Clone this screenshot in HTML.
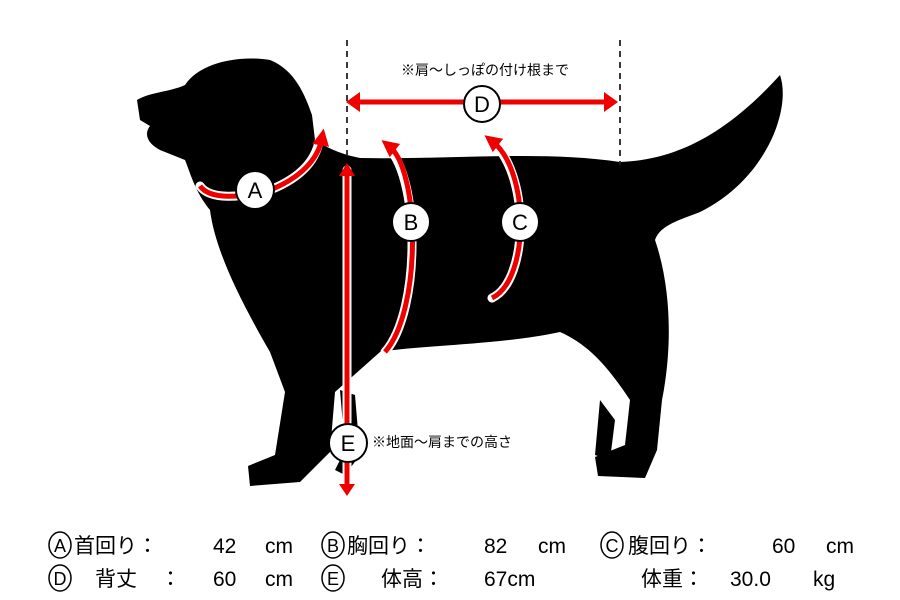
<!DOCTYPE html>
<html><head><meta charset="utf-8"><style>
body{margin:0;width:900px;height:600px;background:#fff;overflow:hidden;font-family:"Liberation Sans","Noto Sans CJK JP",sans-serif}
svg{position:absolute;left:0;top:0}
</style></head><body>
<svg width="900" height="600" viewBox="0 0 900 600">
<defs>
<marker id="ah" markerWidth="3.4" markerHeight="3.4" refX="1.5" refY="1.7" orient="auto" markerUnits="strokeWidth"><path d="M0,0 L3.4,1.7 L0,3.4 Z" fill="#e00"/></marker>
</defs>
<path fill="#000" d="M137,100 C150,92 170,92 185,85 C200,62 240,55 270,60 C295,70 305,95 312,115 L315,140 C330,150 345,155 360,158 C450,160 540,150 620,162 C680,160 730,130 780,75 C792,110 765,180 700,212 C680,220 660,225 655,240 C672,290 672,350 662,400 L657,450 L645,478 L598,476 L595,457 L625,445 L630,400 C610,370 590,345 560,332 C500,345 420,345 380,352 L335,392 L330,452 L300,482 L250,486 L248,466 L275,455 L285,392 L270,352 C240,300 215,250 210,210 C195,192 190,172 185,160 L160,150 C145,142 145,132 150,126 L140,120 Z"/>
<path fill="#000" d="M340,390 L345,450 L335,470 L345,475 L360,455 L355,395 Z"/>
<path fill="#000" d="M600,400 L595,455 L610,460 L615,420 Z"/>
<g stroke="#222" stroke-width="1.8" stroke-dasharray="6,5">
<line x1="347" y1="40" x2="347" y2="158"/><line x1="620" y1="40" x2="620" y2="165"/>
</g>
<g fill="none" stroke="#fff" stroke-width="9" stroke-linecap="round">
<path d="M200,186 C210,200 240,198 270,190 C300,178 318,160 320,135"/>
<path d="M385,145 C420,170 422,310 385,352"/>
<path d="M490,140 C530,170 530,280 492,298"/>
<line x1="347" y1="170" x2="347" y2="492"/>
</g>
<g fill="none" stroke="#e00" stroke-width="5">
<line x1="356" y1="102" x2="608" y2="102"/>
<path d="M200,186 C210,200 240,198 270,190 C300,178 318,160 322,138" marker-end="url(#ah)"/>
<path d="M385,352 C422,310 420,170 389,146" marker-end="url(#ah)"/>
<path d="M492,298 C530,280 530,170 492,141" marker-end="url(#ah)"/>
<line x1="347" y1="172" x2="347" y2="490"/>
</g>
<path fill="#e00" d="M346,102 L360,92 L360,112 Z M618,102 L604,92 L604,112 Z M347,163 L339,176 L355,176 Z M347,496 L339,484 L355,484 Z"/>
<g fill="#fff" stroke="#000" stroke-width="2">
<circle cx="482" cy="104" r="18"/><circle cx="255" cy="190" r="19"/>
<circle cx="411" cy="222" r="19"/><circle cx="520" cy="222" r="19"/>
<circle cx="348" cy="443" r="19"/>
</g>
<g font-size="22" text-anchor="middle" fill="#000">
<text x="482" y="112">D</text><text x="255" y="198">A</text>
<text x="411" y="230">B</text><text x="520" y="230">C</text><text x="348" y="451">E</text>
</g>
<text x="485" y="75" font-size="14" text-anchor="middle">※肩〜しっぽの付け根まで</text>
<text x="372" y="447" font-size="14">※地面〜肩までの高さ</text>
<g fill="none" stroke="#000" stroke-width="1.5">
<ellipse cx="60" cy="545" rx="11" ry="13"/><ellipse cx="333" cy="545" rx="11" ry="13"/><ellipse cx="612" cy="545" rx="11" ry="13"/>
<ellipse cx="60" cy="578" rx="11" ry="13"/><ellipse cx="333" cy="578" rx="11" ry="13"/>
</g>
<g font-size="18" text-anchor="middle">
<text x="60" y="552">A</text><text x="333" y="552">B</text><text x="612" y="552">C</text>
<text x="60" y="585">D</text><text x="333" y="585">E</text>
</g>
<g font-size="21">
<text x="74" y="553">首回り：</text><text x="213" y="553">42</text><text x="265" y="553">cm</text>
<text x="347" y="553">胸回り：</text><text x="484" y="553">82</text><text x="538" y="553">cm</text>
<text x="628" y="553">腹回り：</text><text x="772" y="553">60</text><text x="826" y="553">cm</text>
<text x="95" y="586">背丈</text><text x="160" y="586">：</text><text x="213" y="586">60</text><text x="265" y="586">cm</text>
<text x="381" y="586">体高：</text><text x="484" y="586">67cm</text>
<text x="641" y="586">体重：</text><text x="730" y="586">30.0</text><text x="813" y="586">kg</text>
</g>
</svg>
</body></html>
